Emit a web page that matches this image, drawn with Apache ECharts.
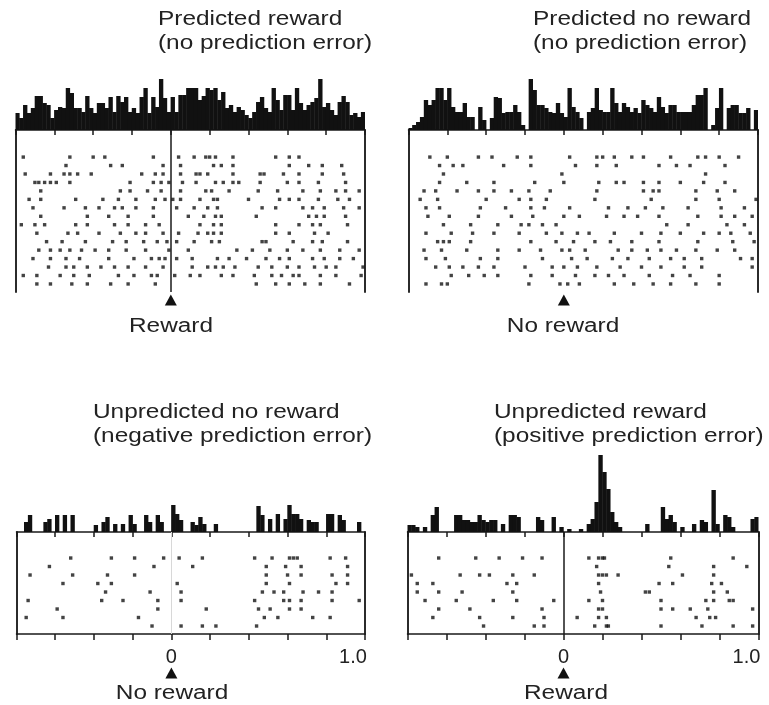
<!DOCTYPE html>
<html><head><meta charset="utf-8">
<script src="https://cdn.jsdelivr.net/npm/echarts@6/dist/echarts.min.js"></script>
<style>html,body{margin:0;padding:0;background:#fff}#c{width:769px;height:705px}</style>
</head><body><div id="c"></div>
<script>
// ---------------- data ----------------
const timeMin = -0.8, timeMax = 1.0, timeStep = 0.2, binWidth = 0.02;
const tickLabels = { '0': '0', '1': '1.0' };
const titles = [
  ['Predicted reward', '(no prediction error)'],
  ['Predicted no reward', '(no prediction error)'],
  ['Unpredicted no reward', '(negative prediction error)'],
  ['Unpredicted reward', '(positive prediction error)']
];
const eventLabels = ['Reward', 'No reward', 'No reward', 'Reward'];

const hist1 = [17,12,25,17,22,34,34,27,25,12, 20,23,22,42,37,22,22,18,34,22, 17,27,27,22,33,18,34,28,33,18,
  22,17,33,42,17,33,23,51,32,18, 33,18,35,35,42,42,42,30,34,42, 40,42,30,38,22,25,18,23,20,15,
  12,18,28,33,22,18,42,30,20,35, 35,20,42,27,20,25,28,32,51,23, 27,20,15,28,34,28,15,17,13,18];
const hist2 = [2,5,8,13,30,25,30,42,42,30, 42,23,18,18,27,13,13,0,23,10, 0,12,33,32,17,18,18,25,18,5,
  0,51,40,25,25,22,18,17,27,17, 13,42,23,18,12,0,18,22,42,20, 18,18,42,27,18,27,23,18,22,17,
  30,25,22,18,33,23,17,25,25,18, 18,18,18,25,35,35,42,0,5,22, 42,0,22,25,25,17,17,22,0,20];
const hist3 = [0,0,10,17,0,0,0,10,13,0, 17,0,17,0,17,0,0,0,0,0, 7,0,10,15,0,8,0,8,0,17,
  8,0,0,17,10,0,17,10,0,0, 27,18,12,0,0,10,7,15,8,0, 0,8,0,0,0,0,0,0,0,0,
  0,0,26,17,0,13,0,18,0,13, 27,18,18,13,0,12,10,10,0,0, 18,18,0,17,12,0,0,0,10,0];
const hist4 = [7,7,5,0,5,0,17,25,0,0, 0,0,17,17,12,12,10,10,17,12, 10,12,12,0,8,0,17,17,15,0,
  0,0,0,15,12,0,0,15,0,5, 0,3,0,0,3,0,8,13,30,77, 60,43,20,10,5,0,0,0,0,0,
  0,8,0,0,0,25,13,17,10,0, 5,0,0,8,0,12,10,0,42,8, 0,17,15,5,0,0,0,0,13,15];

const raster1 = [
  [-0.76,-0.52,-0.40,-0.34,-0.09,0.04,0.12,0.18,0.20,0.23,0.32,0.54,0.61,0.66],
  [-0.54,-0.31,-0.25,-0.04,0.05,0.22,0.26,0.32,0.61,0.71,0.78,0.88],
  [-0.75,-0.62,-0.55,-0.52,-0.48,-0.41,-0.15,-0.08,-0.04,0.05,0.13,0.15,0.19,0.32,0.46,0.48,0.58,0.66,0.78,0.89],
  [-0.70,-0.68,-0.65,-0.62,-0.59,-0.52,-0.21,-0.09,-0.05,-0.01,0.06,0.13,0.23,0.27,0.32,0.35,0.46,0.60,0.66,0.76,0.90],
  [-0.67,-0.26,-0.21,-0.12,-0.05,0.05,0.18,0.21,0.30,0.45,0.55,0.68,0.77,0.85,0.90,0.97],
  [-0.73,-0.67,-0.49,-0.35,-0.27,-0.18,-0.08,-0.03,0.01,0.05,0.15,0.22,0.24,0.40,0.56,0.61,0.66,0.76,0.86,0.92],
  [-0.71,-0.55,-0.44,-0.37,-0.29,-0.25,-0.18,-0.09,0.03,0.12,0.19,0.24,0.47,0.54,0.68,0.73,0.79,0.89,0.97],
  [-0.67,-0.43,-0.32,-0.22,-0.09,0.09,0.17,0.23,0.26,0.44,0.71,0.75,0.79,0.90],
  [-0.77,-0.70,-0.65,-0.49,-0.43,-0.29,-0.22,-0.13,-0.06,0.15,0.22,0.26,0.54,0.66,0.73,0.77,0.91],
  [-0.69,-0.53,-0.48,-0.37,-0.26,-0.18,-0.13,-0.04,0.04,0.14,0.19,0.22,0.26,0.54,0.61,0.74,0.81],
  [-0.64,-0.56,-0.44,-0.30,-0.23,-0.14,-0.07,-0.02,0.03,0.12,0.21,0.25,0.47,0.49,0.63,0.73,0.78,0.91],
  [-0.68,-0.62,-0.57,-0.52,-0.46,-0.39,-0.32,-0.23,-0.13,-0.01,0.09,0.34,0.42,0.51,0.60,0.68,0.77,0.87,0.97],
  [-0.71,-0.62,-0.54,-0.47,-0.32,-0.19,-0.10,-0.06,-0.03,0.03,0.11,0.24,0.30,0.39,0.49,0.56,0.61,0.73,0.79,0.87,0.94],
  [-0.63,-0.54,-0.50,-0.43,-0.36,-0.29,-0.22,-0.13,-0.04,0.11,0.19,0.23,0.27,0.33,0.45,0.52,0.60,0.66,0.74,0.80,0.85,0.99],
  [-0.76,-0.69,-0.57,-0.50,-0.42,-0.27,-0.19,-0.10,-0.07,0.02,0.10,0.15,0.26,0.32,0.43,0.52,0.57,0.63,0.66,0.77,0.85,0.98],
  [-0.69,-0.62,-0.51,-0.43,-0.31,-0.22,-0.08,0.44,0.54,0.61,0.69,0.77,0.92]
];
const raster2 = [
  [-0.69,-0.60,-0.44,-0.37,-0.24,-0.17,0.03,0.17,0.20,0.26,0.35,0.41,0.55,0.69,0.73,0.80,0.90],
  [-0.64,-0.57,-0.52,-0.31,-0.17,0.06,0.17,0.27,0.49,0.58,0.65,0.83],
  [-0.62,-0.01,0.73],
  [-0.64,-0.50,-0.36,-0.15,0.00,0.18,0.27,0.31,0.41,0.49,0.60,0.72,0.83],
  [-0.72,-0.66,-0.55,-0.44,-0.36,-0.27,-0.18,-0.07,0.17,0.41,0.46,0.49,0.68,0.79,0.88],
  [-0.74,-0.65,-0.40,-0.23,-0.17,-0.09,0.16,0.45,0.68,0.80,0.99],
  [-0.71,-0.64,-0.43,-0.30,-0.17,-0.10,0.03,0.23,0.33,0.42,0.51,0.64,0.81,0.93],
  [-0.70,-0.59,-0.44,-0.27,-0.16,0.00,0.08,0.22,0.31,0.38,0.49,0.69,0.81,0.88,0.97],
  [-0.62,-0.48,-0.34,-0.22,-0.18,-0.11,-0.04,0.53,0.64,0.84,0.93],
  [-0.71,-0.58,-0.47,-0.36,-0.23,-0.09,-0.01,0.07,0.13,0.26,0.40,0.50,0.60,0.72,0.80,0.86,0.96],
  [-0.65,-0.62,-0.59,-0.48,-0.17,-0.04,0.05,0.16,0.24,0.35,0.49,0.69,0.87,0.98],
  [-0.72,-0.63,-0.50,-0.34,-0.23,-0.12,-0.01,0.03,0.11,0.28,0.35,0.43,0.50,0.58,0.68,0.79,0.88],
  [-0.71,-0.61,-0.43,-0.34,-0.11,0.04,0.12,0.25,0.33,0.44,0.55,0.62,0.71,0.91,0.97],
  [-0.66,-0.59,-0.52,-0.44,-0.36,-0.20,-0.06,0.00,0.07,0.17,0.29,0.40,0.50,0.62,0.71,0.97],
  [-0.58,-0.49,-0.41,-0.34,-0.17,-0.06,0.06,0.16,0.23,0.31,0.44,0.56,0.65,0.80],
  [-0.71,-0.63,-0.60,-0.18,-0.02,0.02,0.08,0.26,0.36,0.46,0.55,0.68,0.80]
];
const raster3 = [
  [-0.52,-0.31,-0.19,-0.04,0.04,0.16,0.43,0.52,0.61,0.63,0.65,0.82,0.90],
  [-0.63,-0.09,0.11,0.49,0.59,0.67,0.91],
  [-0.73,-0.51,-0.33,-0.19,0.49,0.60,0.67,0.83,0.91],
  [-0.56,-0.38,-0.31,0.03,0.49,0.61,0.85,0.91],
  [-0.34,-0.11,0.05,0.47,0.53,0.58,0.68,0.76,0.83],
  [-0.74,-0.36,-0.25,-0.07,0.05,0.43,0.58,0.61,0.67,0.83,0.97],
  [-0.59,-0.07,0.18,0.45,0.51,0.61,0.67],
  [-0.75,-0.56,-0.17,0.48,0.55,0.73,0.82],
  [-0.10,0.05,0.16,0.23,0.44]
];
const raster4 = [
  [-0.64,-0.45,-0.33,-0.21,-0.11,0.13,0.18,0.20,0.21,0.55,0.87],
  [0.17,0.54,0.77,0.94],
  [-0.78,-0.53,-0.43,-0.38,-0.26,-0.15,0.18,0.20,0.22,0.28,0.61,0.77],
  [-0.75,-0.67,-0.29,-0.24,0.18,0.49,0.56,0.76,0.81],
  [-0.75,-0.64,-0.52,-0.26,0.19,0.42,0.44,0.77,0.84],
  [-0.71,-0.55,-0.36,-0.24,-0.05,0.13,0.20,0.50,0.73,0.77,0.85,0.87],
  [-0.64,-0.48,-0.11,0.18,0.20,0.50,0.56,0.65,0.74,0.97],
  [-0.67,-0.43,-0.26,-0.10,0.07,0.18,0.22,0.68,0.75,0.78],
  [-0.41,-0.15,-0.10,0.16,0.22,0.23,0.50,0.71,0.87,0.97]
];

// ---------------- layout (pixels / styles) ----------------
const FONT = '"Liberation Sans", Arial, Helvetica, sans-serif';
const INK = '#1a1a1a';
const TXT = '#222';
const panels = [
  { hist: hist1, raster: raster1, left: 15.5, width: 349.5, hTop: 78, hH: 52, hMax: 52, rTop: 130, rH: 162, yMin: -2.2, yMax: 16.95,
    zero: { color: INK, width: 1.5 }, bottom: false, triOff: 8, titleX: 158, titleY: 30, evX: 171, evY: 327 },
  { hist: hist2, raster: raster2, left: 408.5, width: 349.5, hTop: 78, hH: 52, hMax: 52, rTop: 130, rH: 162, yMin: -2.2, yMax: 16.95,
    zero: null, bottom: false, triOff: 8, titleX: 533, titleY: 30, evX: 563, evY: 327 },
  { hist: hist3, raster: raster3, left: 16.5, width: 348.5, hTop: 452, hH: 80, hMax: 80, rTop: 532, rH: 102, yMin: -2.06, yMax: 9.94,
    zero: { color: '#d8d8d8', width: 1 }, bottom: true, triOff: 39, titleX: 93, titleY: 423, evX: 172, evY: 694 },
  { hist: hist4, raster: raster4, left: 407.5, width: 351, hTop: 452, hH: 80, hMax: 80, rTop: 532, rH: 102, yMin: -2.06, yMax: 9.94,
    zero: { color: INK, width: 1.5 }, bottom: true, triOff: 39, titleX: 494, titleY: 423, evX: 566, evY: 694 }
];

const nBins = Math.round((timeMax - timeMin) / binWidth);
const binCats = [];
for (let i = 0; i < nBins; i++) binCats.push((timeMin + i * binWidth).toFixed(2));

const grid = [], xAxis = [], yAxis = [], series = [], graphic = [];
const lineStyle = { color: INK, width: 1.5 };
const sideStyle = { color: '#2b2b2b', width: 2 };

panels.forEach((p, i) => {
  const gH = grid.length;
  grid.push({ left: p.left, top: p.hTop, width: p.width, height: p.hH, outerBoundsMode: 'none', containLabel: false });
  const gR = grid.length;
  grid.push({ left: p.left, top: p.rTop, width: p.width, height: p.rH, outerBoundsMode: 'none', containLabel: false });

  const xH = xAxis.length;
  xAxis.push({ type: 'category', gridIndex: gH, data: binCats, show: false, boundaryGap: true });
  const xR = xAxis.length;
  xAxis.push({ type: 'value', gridIndex: gR, position: 'top', min: timeMin, max: timeMax, interval: timeStep,
    axisLine: { show: true, onZero: false, lineStyle }, axisTick: { show: true, inside: true, length: 5, lineStyle },
    axisLabel: { show: false }, splitLine: { show: false } });
  if (p.bottom) {
    xAxis.push({ type: 'value', gridIndex: gR, position: 'bottom', min: timeMin, max: timeMax, interval: timeStep,
      axisLine: { show: true, onZero: false, lineStyle }, axisTick: { show: true, inside: false, length: 6, lineStyle },
      axisLabel: { show: true, margin: 13, fontSize: 20, fontFamily: FONT, color: TXT, showMinLabel: true, showMaxLabel: true,
        formatter: v => { const k = String(Math.round(v * 10) / 10); return k === '1' ? '{r|' + tickLabels[k] + '}' : (tickLabels[k] || ''); },
        rich: { r: { fontSize: 20, fontFamily: FONT, color: TXT, padding: [0, 24, 0, 0] } } },
      splitLine: { show: false } });
  }

  const yH = yAxis.length;
  yAxis.push({ type: 'value', gridIndex: gH, min: 0, max: p.hMax, show: false });
  const yR = yAxis.length;
  yAxis.push({ type: 'value', gridIndex: gR, inverse: true, min: p.yMin, max: p.yMax, position: 'left',
    axisLine: { show: true, onZero: false, lineStyle: sideStyle }, axisTick: { show: false }, axisLabel: { show: false }, splitLine: { show: false } });
  yAxis.push({ type: 'value', gridIndex: gR, inverse: true, min: p.yMin, max: p.yMax, position: 'right',
    axisLine: { show: true, onZero: false, lineStyle: sideStyle }, axisTick: { show: false }, axisLabel: { show: false }, splitLine: { show: false } });

  series.push({ type: 'bar', xAxisIndex: xH, yAxisIndex: yH, data: p.hist, barWidth: '112%', barGap: '-100%',
    itemStyle: { color: '#111' }, silent: true });

  const pts = [];
  p.raster.forEach((row, r) => row.forEach(t => pts.push([t, r + 1])));
  const sc = { type: 'scatter', xAxisIndex: xR, yAxisIndex: yR, data: pts, symbol: 'rect', symbolSize: [3.4, 3.4],
    itemStyle: { color: '#141414' }, silent: true,
    markPoint: { silent: true, symbol: 'triangle', symbolSize: [12, 11], symbolOffset: [0, p.triOff], label: { show: false },
      itemStyle: { color: '#111' }, data: [{ coord: [0, p.yMax] }] } };
  if (p.zero) {
    sc.markLine = { silent: true, symbol: ['none', 'none'], label: { show: false },
      lineStyle: { color: p.zero.color, width: p.zero.width, type: 'solid' }, data: [{ xAxis: 0 }] };
  }
  series.push(sc);

  titles[i].forEach((t, k) => {
    graphic.push({ type: 'text', x: p.titleX, y: p.titleY + k * 24, scaleX: 1.25, silent: true,
      style: { text: t, font: '19.5px ' + FONT, fill: TXT, textAlign: 'left', align: 'left', textVerticalAlign: 'bottom', verticalAlign: 'bottom' } });
  });
  graphic.push({ type: 'text', x: p.evX, y: p.evY, scaleX: 1.25, silent: true,
    style: { text: eventLabels[i], font: '19.5px ' + FONT, fill: TXT, textAlign: 'center', align: 'center', textVerticalAlign: 'middle', verticalAlign: 'middle' } });
});

const chart = echarts.init(document.getElementById('c'), null, { renderer: 'canvas' });
chart.setOption({ animation: false, backgroundColor: '#fff', grid, xAxis, yAxis, series, graphic });
</script>
</body></html>
